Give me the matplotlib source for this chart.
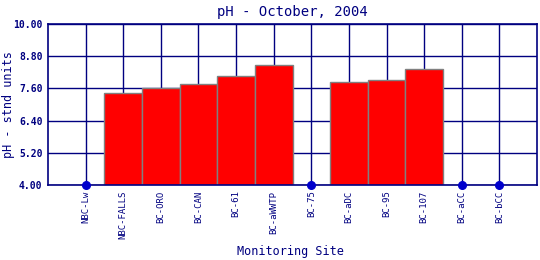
import matplotlib.pyplot as plt
import numpy as np

plt.rcParams['font.family'] = 'DejaVu Sans Mono'

sites = ["NBC-Lw", "NBC-FALLS", "BC-ORO", "BC-CAN", "BC-61", "BC-aWWTP",
         "BC-75", "BC-aDC", "BC-95", "BC-107", "BC-aCC", "BC-bCC"]
ph = [np.nan, 7.42, 7.60, 7.75, 8.05, 8.46, np.nan, 7.83, 7.90, 8.31, np.nan, np.nan]
yticks = [4.0, 5.2, 6.4, 7.6, 8.8, 10.0]

navy = "#000080"

fig = plt.figure(figsize=(5.4, 2.6), dpi=100)
ax = fig.add_axes([48/540, 75/260, 489/540, 161/260])

x = np.arange(len(sites))
vals = np.array(ph)
has = ~np.isnan(vals)

ax.set_axisbelow(True)
ax.grid(True, color=navy, lw=1)
ax.bar(x[has], vals[has] - 4.0, bottom=4.0, width=1.0,
       color="red", edgecolor="#808080", lw=1, zorder=2)
ax.plot(x[~has], np.full((~has).sum(), 4.0), "o", color="#0000cc",
        ms=5.5, clip_on=False, zorder=3)

ax.set_xlim(-1, len(sites))
ax.set_ylim(4, 10)
ax.set_xticks(x)
ax.set_xticklabels(sites, rotation=90, fontsize=6.5, color=navy)
ax.set_yticks(yticks)
ax.set_yticklabels(["%.2f" % v for v in yticks], fontsize=7, color=navy,
                   fontweight="bold")
ax.tick_params(length=0, pad=4)
for s in ax.spines.values():
    s.set_color(navy)
    s.set_linewidth(1.2)

ax.set_title("pH - October, 2004", color=navy, fontsize=10, pad=6)
fig.text(9/540, 1 - 105/260, "pH - stnd units", color=navy, fontsize=8.5,
         rotation=90, ha="center", va="center")
fig.text(290/540, 1 - 252/260, "Monitoring Site", color=navy, fontsize=8.5,
         ha="center", va="center")

fig.savefig("out.png", dpi=100)
